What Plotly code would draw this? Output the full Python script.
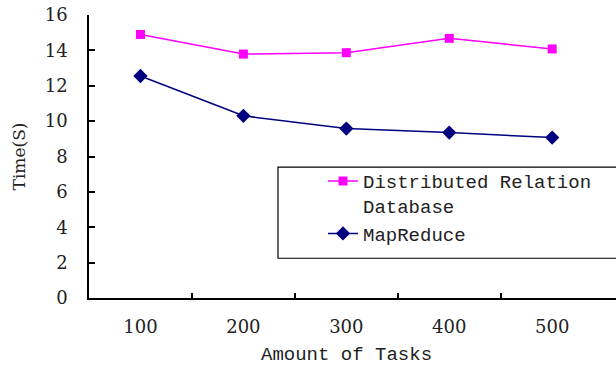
import plotly.graph_objects as go

tasks = [100, 200, 300, 400, 500]
tick_labels = ["100", "200", "300", "400", "500"]
drdb_time = [14.9, 13.79, 13.87, 14.68, 14.08]
mapreduce_time = [12.55, 10.3, 9.58, 9.35, 9.07]

fig = go.Figure()
fig.add_trace(go.Scatter(
    x=tasks, y=drdb_time, mode="lines+markers",
    name="Distributed Relation<br>Database",
    line=dict(color="#FF00FF", width=1.5),
    marker=dict(symbol="square", size=9, color="#FF00FF"),
))
fig.add_trace(go.Scatter(
    x=tasks, y=mapreduce_time, mode="lines+markers",
    name="MapReduce",
    line=dict(color="#000080", width=1.5),
    marker=dict(symbol="diamond", size=11, color="#000080"),
))

fig.add_shape(type="rect", xref="paper", yref="paper",
              x0=(278 - 89) / (616 - 89), x1=1.05, y0=(297.7 - 258) / 282.7, y1=(297.7 - 167) / 282.7,
              line=dict(color="black", width=1.2), fillcolor="white", layer="below")

fig.add_annotation(text="Amount of Tasks", x=300, xref="x", y=(297.7 - 355) / 282.7, yref="paper",
                   yanchor="middle", showarrow=False,
                   font=dict(family="Liberation Mono", size=19, color="#222"))

fig.update_layout(
    width=616, height=366,
    margin=dict(l=89, r=0, t=15, b=68, autoexpand=False),
    paper_bgcolor="white", plot_bgcolor="white",
    showlegend=True,
    legend=dict(
        x=(323 - 89) / (616 - 89), y=(297.7 - 162) / 282.7,
        xanchor="left", yanchor="top",
        bgcolor="rgba(0,0,0,0)", borderwidth=0,
        font=dict(family="Liberation Mono", size=19, color="#222"),
        valign="top", tracegroupgap=0,
    ),
    xaxis=dict(
        range=[50, 562], tickvals=tasks, ticktext=tick_labels,
        ticks="", showline=True, linecolor="black", linewidth=1.5,
        showgrid=False, zeroline=False, automargin=False,
        tickfont=dict(family="DejaVu Serif", size=18, color="#222"),
        ticklabelstandoff=12,
        minor=dict(tickvals=[150, 250, 350, 450], ticks="inside", ticklen=5,
                   tickcolor="black", tickwidth=1.5, showgrid=False),
    ),
    yaxis=dict(
        range=[0, 16], dtick=2, ticks="inside", ticklen=6, tickwidth=1.5,
        tickcolor="black", showline=True, linecolor="black", linewidth=1.5,
        showgrid=False, zeroline=False, automargin=False,
        tickfont=dict(family="DejaVu Serif", size=18, color="#222"),
        ticklabelstandoff=16,
        title=dict(text="Time(S)", standoff=15,
                   font=dict(family="DejaVu Serif", size=17, color="#222")),
    ),
)

fig.write_html("out.html", config={"displayModeBar": False},
               post_script="document.body.style.margin='0';")
